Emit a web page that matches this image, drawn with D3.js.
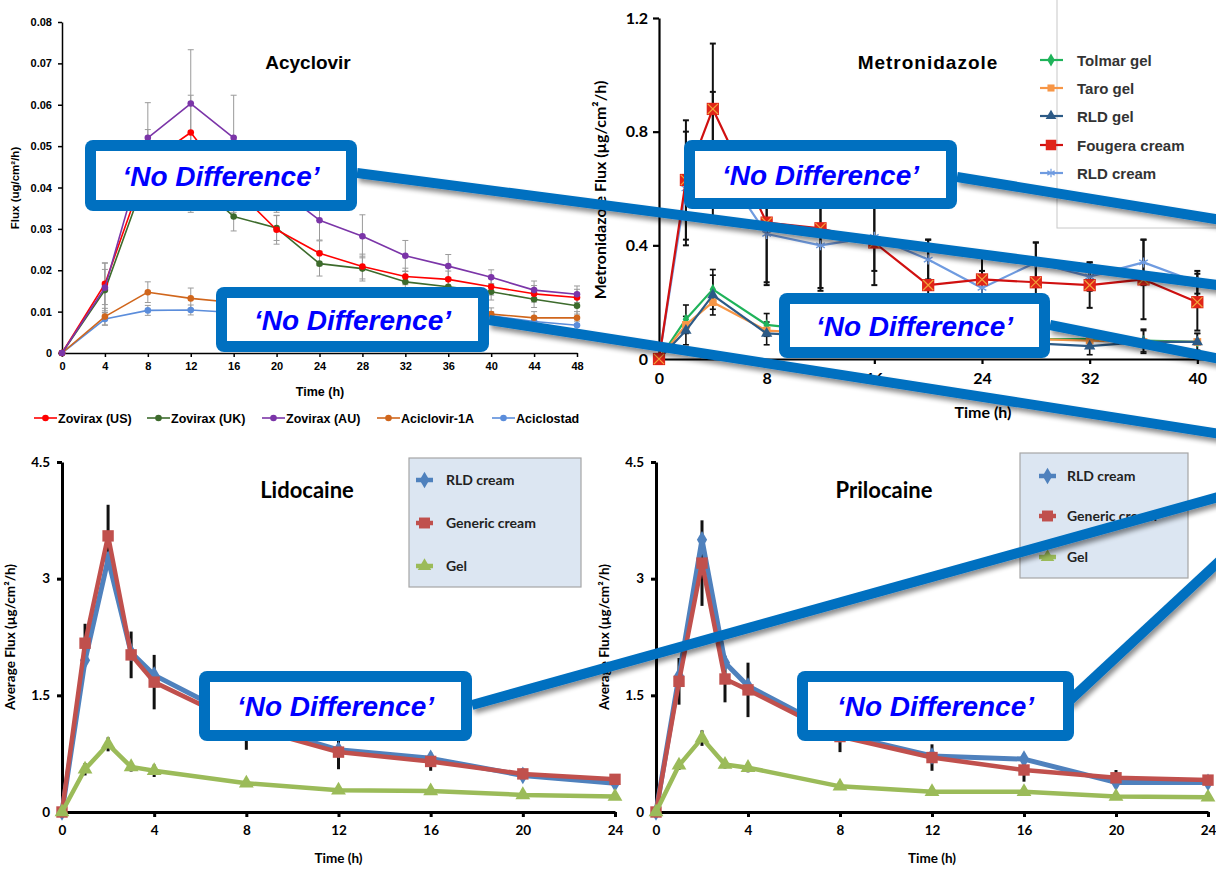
<!DOCTYPE html>
<html><head><meta charset="utf-8">
<script src="https://cdn.jsdelivr.net/npm/d3@7"></script>
<style>body{margin:0;background:#fff}svg{display:block}</style>
</head><body><svg id="c" width="1216" height="869"></svg>
<script>
// ---------- Acyclovir ----------
const acyTimes = [0,4,8,12,16,20,24,28,32,36,40,44,48];
const acyYTicks = [0,0.01,0.02,0.03,0.04,0.05,0.06,0.07,0.08];
const acyNames = ["Zovirax (US)","Zovirax (UK)","Zovirax (AU)","Aciclovir-1A","Aciclostad"];
const acyColors = ["#ff0000","#3d6b2c","#7b35a8","#d0661c","#5b8ddb"];
const acyUS = [0,0.0167,0.046,0.0533,0.040,0.0298,0.0241,0.0209,0.0185,0.0178,0.0160,0.0143,0.0134];
const acyUK = [0,0.0152,0.044,0.042,0.033,0.0302,0.0216,0.0204,0.0172,0.0160,0.0148,0.0130,0.0114];
const acyAU = [0,0.0158,0.052,0.0603,0.052,0.040,0.0321,0.0282,0.0235,0.0210,0.0183,0.0152,0.0142];
const acy1A = [0,0.0088,0.0147,0.0132,0.0122,0.0110,0.0105,0.0100,0.0098,0.0096,0.0094,0.0085,0.0085];
const acyStad = [0,0.0082,0.0103,0.0104,0.0098,0.0095,0.0092,0.0090,0.0088,0.0087,0.0090,0.0076,0.0067];
const acyErrUS = [0,0.005,0.008,0.009,0.006,0.0035,0.003,0.003,0.002,0.002,0.002,0.002,0.002];
const acyErrUK = [0,0.005,0.007,0.008,0.0035,0.003,0.003,0.003,0.0025,0.002,0.002,0.002,0.002];
const acyErrAU = [0,0.006,0.0085,0.013,0.0103,0.006,0.0048,0.0052,0.0037,0.0028,0.0018,0.0022,0.002];
const acyErr1A = [0,0.002,0.0025,0.0025,0.002,0.0018,0.0018,0.0016,0.0015,0.0015,0.0015,0.0015,0.0015];
const acyErrStad = [0,0.0015,0.0012,0.0012,0.0012,0.001,0.001,0.001,0.001,0.001,0.001,0.001,0.001];

// ---------- Metronidazole ----------
const metTimes = [0,2,4,8,12,16,20,24,28,32,36,40];
const metYTicks = [0,0.4,0.8,1.2];
const metXTicks = [0,8,16,24,32,40];
const metNames = ["Tolmar gel","Taro gel","RLD gel","Fougera cream","RLD cream"];
const metColors = ["#1fb35a","#f79646","#2c5a86","#d01010","#6f9be0"];
const metTolmar = [0,0.14,0.245,0.12,0.10,0.09,0.08,0.08,0.07,0.07,0.065,0.06];
const metTaro = [0,0.12,0.20,0.10,0.09,0.08,0.075,0.07,0.07,0.065,0.06,0.06];
const metRLDgel = [0,0.10,0.225,0.09,0.08,0.07,0.065,0.06,0.055,0.045,0.06,0.06];
const metFougera = [0,0.63,0.88,0.48,0.46,0.41,0.26,0.28,0.27,0.26,0.28,0.20];
const metRLDcream = [0,0.60,0.72,0.44,0.40,0.43,0.35,0.25,0.34,0.29,0.34,0.27];
const metErrGel = [0,0.05,0.07,0.04,0.03,0.03,0.03,0.03,0.03,0.03,0.04,0.03];
const metErrFougera = [0,0.21,0.23,0.21,0.21,0.15,0.16,0.10,0.14,0.08,0.14,0.10];
const metErrRLDcream = [0,0.20,0.22,0.18,0.16,0.12,0.07,0.06,0.07,0.05,0.08,0.04];

// ---------- Lidocaine / Prilocaine ----------
const lpTimes = [0,1,2,3,4,8,12,16,20,24];
const lpYTicks = [0,1.5,3,4.5];
const lpXTicks = [0,4,8,12,16,20,24];
const lpNames = ["RLD cream","Generic cream","Gel"];
const lpColors = ["#4f81bd","#c0504d","#9bbb59"];
const lidRLD = [0,1.95,3.25,2.05,1.76,1.15,0.80,0.69,0.47,0.37];
const lidGeneric = [0,2.17,3.55,2.02,1.67,1.10,0.77,0.65,0.49,0.42];
const lidGel = [0,0.55,0.87,0.58,0.53,0.37,0.28,0.27,0.22,0.20];
const lidErrCream = [0,0.25,0.40,0.30,0.35,0.30,0.22,0.12,0.07,0.05];
const lidErrGel = [0,0.08,0.09,0.06,0.08,0.04,0.03,0.03,0.03,0.03];
const priRLD = [0,1.75,3.50,1.92,1.62,1.00,0.72,0.68,0.38,0.38];
const priGeneric = [0,1.68,3.20,1.71,1.57,0.97,0.70,0.54,0.44,0.41];
const priGel = [0,0.60,0.95,0.61,0.57,0.33,0.26,0.26,0.20,0.19];
const priErrCream = [0,0.30,0.55,0.30,0.35,0.20,0.17,0.15,0.10,0.05];
const priErrGel = [0,0.06,0.10,0.05,0.06,0.04,0.03,0.03,0.03,0.03];

const noDiffLabel = "\u2018No Difference\u2019";

const svg = d3.select('#c');
svg.append('rect').attr('width',1216).attr('height',869).attr('fill','#fff');
const defs = svg.append('defs');
const f = defs.append('filter').attr('id','sh').attr('x','-20%').attr('y','-50%').attr('width','140%').attr('height','200%');
f.append('feGaussianBlur').attr('in','SourceAlpha').attr('stdDeviation',2.5).attr('result','b');
f.append('feOffset').attr('in','b').attr('dx',2).attr('dy',4).attr('result','o');
f.append('feComponentTransfer').attr('in','o').attr('result','o2').append('feFuncA').attr('type','linear').attr('slope',0.45);
const fm = f.append('feMerge'); fm.append('feMergeNode').attr('in','o2'); fm.append('feMergeNode').attr('in','SourceGraphic');

function styleAxis(g, width, font, size, weight, color){
  g.select('.domain').attr('stroke','#000').attr('stroke-width',width);
  g.selectAll('.tick line').attr('stroke','#000').attr('stroke-width',width);
  g.selectAll('.tick text').attr('font-family',font).attr('font-size',size).attr('font-weight',weight).attr('fill',color||'#000');
}
function errBars(g, x, y, times, vals, errs, color, w, cap){
  times.forEach((t,i)=>{
    if(!errs[i]) return;
    const cx = x(t), y1 = y(vals[i]-errs[i]), y2 = y(vals[i]+errs[i]);
    g.append('line').attr('x1',cx).attr('x2',cx).attr('y1',y1).attr('y2',y2).attr('stroke',color).attr('stroke-width',w);
    if(cap){
      [y1,y2].forEach(yy=>g.append('line').attr('x1',cx-cap).attr('x2',cx+cap).attr('y1',yy).attr('y2',yy).attr('stroke',color).attr('stroke-width',w));
    }
  });
}
function seriesLine(g, x, y, times, vals, color, w){
  g.append('path').attr('d', d3.line().x((d,i)=>x(times[i])).y(d=>y(d))(vals))
    .attr('fill','none').attr('stroke',color).attr('stroke-width',w).attr('stroke-linejoin','round');
}
function markers(g, x, y, times, vals, type, size, fill, stroke, sw){
  const sym = d3.symbol().type(type).size(size);
  g.selectAll(null).data(vals).enter().append('path')
    .attr('d', sym)
    .attr('transform',(d,i)=>`translate(${x(times[i])},${y(d)})`)
    .attr('fill', fill).attr('stroke', stroke||'none').attr('stroke-width', sw||0);
}

// ===================== Panel 1: Acyclovir =====================
{
  const g = svg.append('g');
  const x = d3.scaleLinear().domain([0,48]).range([62,577]);
  const y = d3.scaleLinear().domain([0,0.08]).range([353,22]);
  const ax = g.append('g').attr('transform','translate(0,353)').call(d3.axisBottom(x).tickValues(acyTimes).tickSize(4).tickSizeOuter(0).tickPadding(5));
  styleAxis(ax,1.5,'Liberation Sans, Arial, sans-serif',11,'bold');
  const ay = g.append('g').attr('transform','translate(62,0)').call(d3.axisLeft(y).tickValues(acyYTicks).tickSize(4).tickSizeOuter(0).tickPadding(6).tickFormat(d=>d===0?'0':d3.format('.2f')(d)));
  styleAxis(ay,1.5,'Liberation Sans, Arial, sans-serif',11,'bold');
  const vals = [acyUS,acyUK,acyAU,acy1A,acyStad];
  const errs = [acyErrUS,acyErrUK,acyErrAU,acyErr1A,acyErrStad];
  vals.forEach((v,k)=>errBars(g,x,y,acyTimes,v,errs[k],'#9a9a9a',1,3));
  [4,3,1,0,2].forEach(k=>{
    seriesLine(g,x,y,acyTimes,vals[k],acyColors[k],1.6);
    markers(g,x,y,acyTimes,vals[k],d3.symbolCircle,34,acyColors[k]);
  });
  g.append('text').attr('x',308).attr('y',69).attr('text-anchor','middle').attr('font-family','Liberation Sans, Arial').attr('font-weight','bold').attr('font-size',19).text('Acyclovir');
  g.append('text').attr('x',320).attr('y',396).attr('text-anchor','middle').attr('font-family','Liberation Sans, Arial').attr('font-weight','bold').attr('font-size',12.5).text('Time (h)');
  g.append('text').attr('transform','translate(19,188) rotate(-90)').attr('text-anchor','middle').attr('font-family','Liberation Sans, Arial').attr('font-weight','bold').attr('font-size',11.5).text('Flux (ug/cm\u00b2/h)');
  const lx = [34,147,262,377,492];
  acyNames.forEach((n,k)=>{
    g.append('line').attr('x1',lx[k]).attr('x2',lx[k]+23).attr('y1',418).attr('y2',418).attr('stroke',acyColors[k]).attr('stroke-width',1.6);
    g.append('circle').attr('cx',lx[k]+11.5).attr('cy',418).attr('r',3.3).attr('fill',acyColors[k]);
    g.append('text').attr('x',lx[k]+24).attr('y',422.5).attr('font-family','Liberation Sans, Arial').attr('font-weight','bold').attr('font-size',12.5).text(n);
  });
}

// ===================== Panel 2: Metronidazole =====================
{
  const g = svg.append('g');
  const x = d3.scaleLinear().domain([0,48]).range([659,1305]);
  const y = d3.scaleLinear().domain([0,1.2]).range([359,18]);
  const ax = g.append('g').attr('transform','translate(0,359)').call(d3.axisBottom(x).tickValues(metXTicks).tickSize(5).tickSizeOuter(0).tickPadding(9));
  styleAxis(ax,2.2,'Lato, Carlito, sans-serif',16,'bold');
  const ay = g.append('g').attr('transform','translate(659,0)').call(d3.axisLeft(y).tickValues(metYTicks).tickSize(6).tickSizeOuter(0).tickPadding(5).tickFormat(d=>d===0?'0':d3.format('.1f')(d)));
  styleAxis(ay,2.2,'Lato, Carlito, sans-serif',16,'bold');
  g.append('rect').attr('x',1057).attr('y',-2).attr('width',175).attr('height',230).attr('fill','#fff').attr('stroke','#c8c8c8').attr('stroke-width',1);
  errBars(g,x,y,metTimes,metTolmar,metErrGel,'#111',1.6,3);
  errBars(g,x,y,metTimes,metRLDgel,metErrGel,'#111',1.6,3);
  errBars(g,x,y,metTimes,metFougera,metErrFougera,'#111',2,3);
  errBars(g,x,y,metTimes,metRLDcream,metErrRLDcream,'#111',2,3);
  seriesLine(g,x,y,metTimes,metTolmar,metColors[0],2.2);
  markers(g,x,y,metTimes,metTolmar,d3.symbolDiamond,36,metColors[0]);
  seriesLine(g,x,y,metTimes,metTaro,metColors[1],2.2);
  markers(g,x,y,metTimes,metTaro,d3.symbolSquare,60,metColors[1]);
  seriesLine(g,x,y,metTimes,metRLDgel,metColors[2],2.2);
  markers(g,x,y,metTimes,metRLDgel,d3.symbolTriangle,55,metColors[2]);
  seriesLine(g,x,y,metTimes,metRLDcream,metColors[4],2.2);
  markers(g,x,y,metTimes,metRLDcream,d3.symbolAsterisk,70,'none',metColors[4],1.4);
  seriesLine(g,x,y,metTimes,metFougera,metColors[3],2.2);
  markers(g,x,y,metTimes,metFougera,d3.symbolSquare,150,'#e02418');
  markers(g,x,y,metTimes,metFougera,d3.symbolX,70,'none','#f2a23a',1.2);
  g.append('text').attr('x',928).attr('y',69).attr('text-anchor','middle').attr('font-family','Liberation Sans, Arial').attr('font-weight','bold').attr('font-size',19).attr('letter-spacing',1).text('Metronidazole');
  g.append('text').attr('x',983).attr('y',418).attr('text-anchor','middle').attr('font-family','Lato, sans-serif').attr('font-weight','bold').attr('font-size',16).text('Time (h)');
  g.append('text').attr('transform','translate(606,190) rotate(-90)').attr('text-anchor','middle').attr('font-family','Lato, sans-serif').attr('font-weight','bold').attr('font-size',16).text('Metronidazole Flux (\u00b5g/cm\u00b2/h)');
  const ly = [60,88,116,145,173];
  const lsyms = [d3.symbolDiamond,d3.symbolSquare,d3.symbolTriangle,d3.symbolSquare,d3.symbolAsterisk];
  metNames.forEach((n,k)=>{
    g.append('line').attr('x1',1040).attr('x2',1063).attr('y1',ly[k]).attr('y2',ly[k]).attr('stroke',metColors[k]).attr('stroke-width',2.2);
    const s = d3.symbol().type(lsyms[k]).size(k===3?110:50);
    const p = g.append('path').attr('d',s).attr('transform',`translate(1051,${ly[k]})`);
    if(k===4) p.attr('fill','none').attr('stroke',metColors[k]).attr('stroke-width',1.2); else p.attr('fill',k===3?'#e02418':metColors[k]);
    g.append('text').attr('x',1077).attr('y',ly[k]+5.5).attr('font-family','Liberation Sans, Arial').attr('font-weight','bold').attr('font-size',15).attr('fill','#333').text(n);
  });
}

// ===================== Panels 3 & 4: Lidocaine / Prilocaine =====================
function lpPanel(x0, x1, title, titleX, rld, gen, gel, errCream, errGel, legend){
  const g = svg.append('g');
  const x = d3.scaleLinear().domain([0,24]).range([x0,x1]);
  const y = d3.scaleLinear().domain([0,4.5]).range([812,462]);
  g.append('rect').attr('x',legend.x).attr('y',legend.y).attr('width',legend.w).attr('height',legend.h).attr('fill','#dce6f2').attr('stroke','#a6a6a6').attr('stroke-width',1.2);
  const ax = g.append('g').attr('transform','translate(0,812)').call(d3.axisBottom(x).tickValues(lpXTicks).tickSize(5).tickSizeOuter(0).tickPadding(8));
  styleAxis(ax,3,'Lato, Carlito, sans-serif',13.5,'bold');
  const ay = g.append('g').attr('transform',`translate(${x0},0)`).call(d3.axisLeft(y).tickValues(lpYTicks).tickSize(5).tickSizeOuter(0).tickPadding(7).tickFormat(d=>String(d)));
  styleAxis(ay,3,'Lato, Carlito, sans-serif',13.5,'bold');
  errBars(g,x,y,lpTimes,gen,errCream,'#111',3,0);
  errBars(g,x,y,lpTimes,gel,errGel,'#111',3,0);
  seriesLine(g,x,y,lpTimes,rld,lpColors[0],5);
  markers(g,x,y,lpTimes,rld,d3.symbolDiamond,90,lpColors[0]);
  seriesLine(g,x,y,lpTimes,gen,lpColors[1],4.5);
  markers(g,x,y,lpTimes,gen,d3.symbolSquare,130,lpColors[1]);
  seriesLine(g,x,y,lpTimes,gel,lpColors[2],4.5);
  markers(g,x,y,lpTimes,gel,d3.symbolTriangle,95,lpColors[2]);
  g.append('text').attr('x',titleX).attr('y',498).attr('text-anchor','middle').attr('font-family','Lato, sans-serif').attr('font-weight','bold').attr('font-size',22).text(title);
  g.append('text').attr('x',(x0+x1)/2).attr('y',863).attr('text-anchor','middle').attr('font-family','Lato, sans-serif').attr('font-weight','bold').attr('font-size',13.5).text('Time (h)');
  g.append('text').attr('transform',`translate(${x0-47},637) rotate(-90)`).attr('text-anchor','middle').attr('font-family','Lato, sans-serif').attr('font-weight','bold').attr('font-size',13.5).text('Average Flux (\u00b5g/cm\u00b2/h)');
  const syms = [d3.symbolDiamond,d3.symbolSquare,d3.symbolTriangle];
  lpNames.forEach((n,k)=>{
    const yy = legend.ys[k];
    g.append('line').attr('x1',legend.mx).attr('x2',legend.mx+17).attr('y1',yy).attr('y2',yy).attr('stroke',lpColors[k]).attr('stroke-width',4.5);
    g.append('path').attr('d',d3.symbol().type(syms[k]).size(k===1?120:80)).attr('transform',`translate(${legend.mx+8.5},${yy})`).attr('fill',lpColors[k]);
    g.append('text').attr('x',legend.tx).attr('y',yy+5).attr('font-family','Lato, sans-serif').attr('font-weight','bold').attr('font-size',14).attr('fill','#222').text(n);
  });
}
lpPanel(62,615,'Lidocaine',307,lidRLD,lidGeneric,lidGel,lidErrCream,lidErrGel,{x:409,y:458,w:172,h:129,mx:416,tx:446,ys:[480,523,566]});
lpPanel(656,1208,'Prilocaine',884,priRLD,priGeneric,priGel,priErrCream,priErrGel,{x:1020,y:453,w:168,h:125,mx:1039,tx:1067,ys:[476,516,557]});

// ===================== Callouts =====================
const connectors = [
  [[357,173],[1240,288]],
  [[957,177],[1240,223]],
  [[489,320],[1240,437]],
  [[1050,325],[1240,363]],
  [[472,705],[1240,491]],
  [[1068,702],[1240,542]]
];
const ov = svg.append('g');
connectors.forEach(c=>{
  ov.append('line').attr('x1',c[0][0]).attr('y1',c[0][1]).attr('x2',c[1][0]).attr('y2',c[1][1])
    .attr('stroke','#0070c0').attr('stroke-width',10).attr('filter','url(#sh)');
});
const boxes = [[85,140,272,71],[684,140,273,69],[216,287,273,65],[779,293,271,65],[199,671,273,70],[797,671,277,70]];
boxes.forEach(b=>{
  ov.append('rect').attr('x',b[0]).attr('y',b[1]).attr('width',b[2]).attr('height',b[3]).attr('rx',8).attr('fill','#0070c0');
  ov.append('rect').attr('x',b[0]+11).attr('y',b[1]+11).attr('width',b[2]-22).attr('height',b[3]-22).attr('fill','#fff');
  ov.append('text').attr('x',b[0]+b[2]/2).attr('y',b[1]+b[3]/2+10).attr('text-anchor','middle')
    .attr('font-family','Liberation Sans, Arial, sans-serif').attr('font-style','italic').attr('font-weight','bold')
    .attr('font-size',28).attr('fill','#0000ff').text(noDiffLabel);
});
</script></body></html>
